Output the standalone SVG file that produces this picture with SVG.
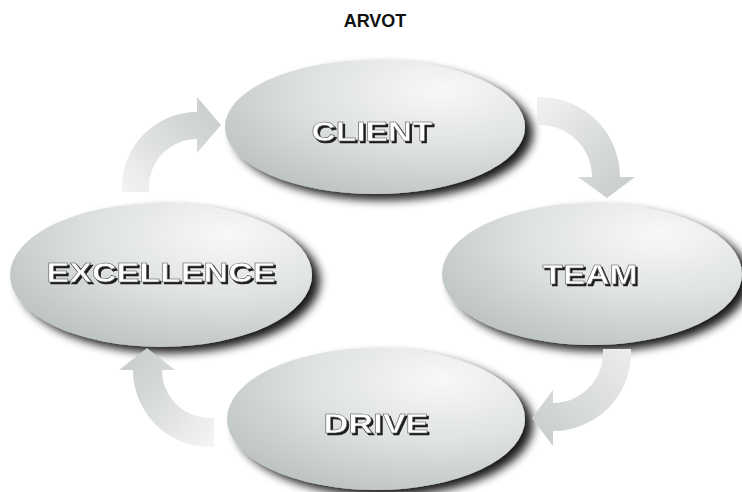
<svg xmlns="http://www.w3.org/2000/svg" width="742" height="492" viewBox="0 0 742 492">
<defs>
<radialGradient id="ballGrad" cx="0.72" cy="0.22" r="0.85" fx="0.72" fy="0.22">
<stop offset="0" stop-color="#f8f8f8"/>
<stop offset="0.5" stop-color="#e0e3e3"/>
<stop offset="1" stop-color="#bec3c3"/>
</radialGradient>
<filter id="shadow" x="-20%" y="-30%" width="150%" height="170%">
<feGaussianBlur in="SourceAlpha" stdDeviation="5"/>
<feOffset dx="8" dy="6" result="b"/>
<feComponentTransfer in="b" result="s"><feFuncA type="linear" slope="0.9"/></feComponentTransfer>
<feMerge><feMergeNode in="s"/><feMergeNode in="SourceGraphic"/></feMerge>
</filter>
<filter id="txtShadow" x="-10%" y="-30%" width="120%" height="160%">
<feOffset in="SourceAlpha" dx="2" dy="2" result="o"/>
<feFlood flood-color="#1a1a1a"/>
<feComposite in2="o" operator="in" result="s"/>
<feMerge><feMergeNode in="s"/><feMergeNode in="SourceGraphic"/></feMerge>
</filter>
<linearGradient id="gTL" x1="0" y1="1" x2="1" y2="0">
<stop offset="0" stop-color="#f4f4f4"/>
<stop offset="0.6" stop-color="#d6d9d9"/>
<stop offset="1" stop-color="#c6caca"/>
</linearGradient>
<linearGradient id="gTR" x1="0" y1="0" x2="1" y2="1">
<stop offset="0" stop-color="#f2f2f2"/>
<stop offset="0.6" stop-color="#d6d9d9"/>
<stop offset="1" stop-color="#c6caca"/>
</linearGradient>
<linearGradient id="gBR" x1="1" y1="0" x2="0" y2="1">
<stop offset="0" stop-color="#ececec"/>
<stop offset="0.6" stop-color="#d6d9d9"/>
<stop offset="1" stop-color="#c6caca"/>
</linearGradient>
<linearGradient id="gBL" x1="1" y1="1" x2="0" y2="0">
<stop offset="0" stop-color="#f6f6f6"/>
<stop offset="0.6" stop-color="#d6d9d9"/>
<stop offset="1" stop-color="#c6caca"/>
</linearGradient>
<style>
.ball{fill:url(#ballGrad);filter:url(#shadow);}
.lbl{font-family:"Liberation Sans",Arial,Helvetica,sans-serif;font-weight:bold;font-size:28px;text-anchor:middle;fill:#ffffff;stroke:#505050;stroke-width:0.5;filter:url(#txtShadow);}
.title{font-family:"Liberation Sans",Arial,Helvetica,sans-serif;font-weight:bold;font-size:18px;text-anchor:middle;fill:#111;}
</style>
</defs>
<rect width="742" height="492" fill="#ffffff"/>
<text class="title" x="375" y="27">ARVOT</text>

<g id="node-client">
<ellipse class="ball" cx="375" cy="127" rx="150" ry="67"/>
<text class="lbl" x="372" y="141" textLength="121" lengthAdjust="spacingAndGlyphs">CLIENT</text>
</g>

<g id="node-excellence">
<ellipse class="ball" cx="161" cy="275" rx="151" ry="72"/>
<text class="lbl" x="161" y="282" textLength="229" lengthAdjust="spacingAndGlyphs">EXCELLENCE</text>
</g>

<g id="node-team">
<ellipse class="ball" cx="592" cy="274" rx="150" ry="71"/>
<text class="lbl" x="590" y="284" textLength="95" lengthAdjust="spacingAndGlyphs">TEAM</text>
</g>

<g id="node-drive">
<ellipse class="ball" cx="376" cy="419" rx="149" ry="71"/>
<text class="lbl" x="376" y="433" textLength="105" lengthAdjust="spacingAndGlyphs">DRIVE</text>
</g>

<g id="connectors">
<path fill="url(#gTL)" d="M122,192 L122,187 A75,75 0 0 1 197,112 L197,97 L221,125 L197,153 L197,139 A48,48 0 0 0 149,187 L149,192 Z"/>
<path fill="url(#gTR)" d="M537,97 L540,97 A80,80 0 0 1 620,177 L635,177 L607,198 L578,177 L592,177 A52,52 0 0 0 540,125 L537,125 Z"/>
<path fill="url(#gBR)" d="M631,349 L631,353 A78,78 0 0 1 553,431 L553,446 L532,418 L553,390 L553,403 A50,50 0 0 0 603,353 L603,349 Z"/>
<path fill="url(#gBL)" d="M214,447 L210,447 A77,77 0 0 1 133,370 L119,370 L147,348 L175,370 L162,370 A48,48 0 0 0 210,418 L214,418 Z"/>
</g>
</svg>
